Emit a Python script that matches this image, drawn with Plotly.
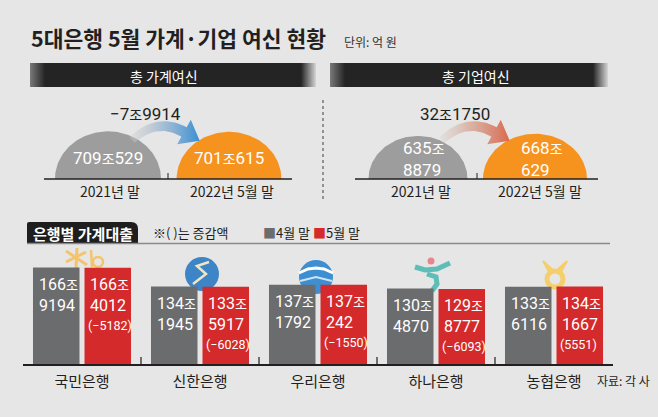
import numpy as np
import plotly.graph_objects as go

W, H = 658, 417

# ---------------- data ----------------
banks = ["국민은행", "신한은행", "우리은행", "하나은행", "농협은행"]
apr_jo = [166, 134, 137, 130, 133]
apr_eok = [9194, 1945, 1792, 4870, 6116]
may_jo = [166, 133, 137, 129, 134]
may_eok = [4012, 5917, 242, 8777, 1667]

periods = ["2021년 말", "2022년 5월 말"]
household_jo = [709, 701]
household_eok = [529, 615]
corporate_jo = [635, 668]
corporate_eok = [8879, 629]

# ---------------- styles ----------------
BG = "#e6e6e6"
GRAY_BAR = "#6b6c6e"
RED_BAR = "#d42a2b"
ORANGE = "#f6931e"
GRAY_CIRC = "#9d9d9d"
DARK = "#231f20"
KR = "Noto Sans CJK KR"
NUM = "Liberation Sans Narrow, Roboto, Noto Sans CJK KR, sans-serif"


def to_eok(jo, eok):
    return jo * 10000 + eok


def fmt_change(d, with_jo=True):
    s = "−" if d < 0 else ""
    a = abs(d)
    if with_jo and a >= 10000:
        return f"{s}{a // 10000}조{a % 10000}"
    return f"{s}{a}"


apr_val = [to_eok(j, e) / 10000 for j, e in zip(apr_jo, apr_eok)]
may_val = [to_eok(j, e) / 10000 for j, e in zip(may_jo, may_eok)]
bank_change = [to_eok(mj, me) - to_eok(aj, ae)
               for mj, me, aj, ae in zip(may_jo, may_eok, apr_jo, apr_eok)]

fig = go.Figure()

# ---------------- bar chart ----------------
fig.add_trace(go.Bar(x=banks, y=apr_val, name="4월 말", marker_color=GRAY_BAR,
                     marker_line_width=0, xaxis="x", yaxis="y", hoverinfo="skip"))
fig.add_trace(go.Bar(x=banks, y=may_val, name="5월 말", marker_color=RED_BAR,
                     marker_line_width=0, xaxis="x", yaxis="y", hoverinfo="skip"))

ann = []
shapes = []


def P(x, y):
    return x / W, 1 - y / H


def px_ann(x, y, text, size=14, color=DARK, family=KR, xanchor="center",
           yanchor="middle", weight=None, align="center"):
    f = dict(size=size, color=color, family=family)
    if weight:
        f["weight"] = weight
    ann.append(dict(x=x, y=y, xref="x3", yref="y3", text=text, showarrow=False,
                    xanchor=xanchor, yanchor=yanchor, font=f, align=align))


def small(s, sz=13):
    return f"<span style='font-size:{sz}px'>{s}</span>"


def bar_line(bank, val, text, xshift, yshift, size=16):
    ann.append(dict(x=bank, y=val, xref="x", yref="y", xanchor="left", yanchor="middle",
                    xshift=xshift, yshift=yshift, showarrow=False, align="left", text=text,
                    font=dict(size=size, color="white", family=NUM)))


for i, b in enumerate(banks):
    bar_line(b, apr_val[i], f"{apr_jo[i]}{small('조')}", -45, -17)
    bar_line(b, apr_val[i], f"{apr_eok[i]}", -45, -38)
    bar_line(b, may_val[i], f"{may_jo[i]}{small('조')}", 6, -17)
    bar_line(b, may_val[i], f"{may_eok[i]}", 6, -38)
    bar_line(b, may_val[i], f"({fmt_change(bank_change[i], False)})", 4, -58, size=12.5)
    if i > 0:
        shapes.append(dict(type="line", xref="x", yref="y3", x0=i - 0.5, x1=i - 0.5,
                           y0=357, y1=364, line=dict(color=DARK, width=1.2)))


# ---------------- top semicircles ----------------
def semicircle(cx, base, r, ry_ratio, color):
    t = np.linspace(0, np.pi, 80)
    xs = cx + r * np.cos(t)
    ys = base - ry_ratio * r * np.sin(t)
    fig.add_trace(go.Scatter(x=xs, y=ys, fill="toself", fillcolor=color, mode="lines",
                             line=dict(width=0, color=color), xaxis="x3", yaxis="y3",
                             hoverinfo="skip", showlegend=False))


BASE = 179
hh_val = [to_eok(j, e) for j, e in zip(household_jo, household_eok)]
cp_val = [to_eok(j, e) for j, e in zip(corporate_jo, corporate_eok)]
k_left = 53 / 709.0
k_right = 52 / 668.0
left_cx = [108, 229]
right_cx = [418, 535]
cols = [GRAY_CIRC, ORANGE]
for i in range(2):
    semicircle(left_cx[i], BASE, k_left * hh_val[i] / 10000, 0.9, cols[i])
    semicircle(right_cx[i], BASE, k_right * cp_val[i] / 10000, 0.87, cols[i])


# arrows
def arrow(p0, p1, p2, half=5.5, head=14, tip=18, c0="rgba(205,205,205,0.3)",
          cm="rgba(180,190,200,0.8)", c1="#3b8fd0"):
    p0, p1, p2 = map(np.array, (p0, p1, p2))
    t = np.linspace(0, 1, 40)[:, None]
    pts = (1 - t) ** 2 * p0 + 2 * (1 - t) * t * p1 + t ** 2 * p2
    der = 2 * (1 - t) * (p1 - p0) + 2 * t * (p2 - p1)
    der = der / np.linalg.norm(der, axis=1, keepdims=True)
    nrm = np.stack([-der[:, 1], der[:, 0]], axis=1)
    w = (0.7 + 0.3 * t) * half
    upper = pts - w * nrm
    lower = pts + w * nrm
    d_end, n_end = der[-1], nrm[-1]
    head_pts = np.array([p2 - head * n_end, p2 + tip * d_end, p2 + head * n_end])
    poly = np.vstack([upper, head_pts, lower[::-1], upper[:1]])
    fig.add_trace(go.Scatter(x=poly[:, 0], y=poly[:, 1], fill="toself", mode="lines",
                             line=dict(width=0), fillgradient=dict(type="horizontal",
                             colorscale=[[0, c0], [0.4, cm], [1, c1]]),
                             xaxis="x3", yaxis="y3", hoverinfo="skip", showlegend=False))


arrow((132, 140), (157, 117), (184, 132), c1="#3a8fd2", cm="rgba(170,190,210,0.85)")
arrow((442, 140), (467, 117), (494, 132), c0="rgba(215,205,200,0.3)",
      cm="rgba(215,175,160,0.85)", c1="#d9694f")


# header bars
def header(x0, x1, y0, y1):
    xs = [x0, x1, x1, x0, x0]
    ys = [y0, y0, y1, y1, y0]
    fr = 15 / (x1 - x0)
    fig.add_trace(go.Scatter(x=xs, y=ys, fill="toself", mode="lines", line=dict(width=0),
                             fillgradient=dict(type="horizontal", colorscale=[
                                 [0, "#7a7a7a"], [fr, "#242424"], [1 - fr, "#242424"], [1, "#d6d6d6"]]),
                             xaxis="x3", yaxis="y3", hoverinfo="skip", showlegend=False))


header(30, 316, 63, 87)
header(330, 608, 63, 87)

# ---------------- texts ----------------
px_ann(29, 37, "5대은행 5월 가계·기업 여신 현황", size=21.5, xanchor="left", weight=700)
px_ann(342, 41, "단위: 억 원", size=12, xanchor="left", color="#333")
px_ann(164, 76, "총 가계여신", size=14, color="white")
px_ann(476, 76, "총 기업여신", size=14, color="white")

px_ann(145, 114, fmt_change(hh_val[1] - hh_val[0]).replace("조", small("조", 14)), size=17, family=NUM)
px_ann(455, 114, fmt_change(cp_val[1] - cp_val[0]).replace("조", small("조", 14)), size=17, family=NUM)

px_ann(108, 158, f"{household_jo[0]}{small('조', 14)}{household_eok[0]}", size=17, color="white", family=NUM)
px_ann(229, 158, f"{household_jo[1]}{small('조', 14)}{household_eok[1]}", size=17, color="white", family=NUM)
px_ann(401, 148, f"{corporate_jo[0]}{small('조', 14)}", size=17, color="white", family=NUM, xanchor="left")
px_ann(401, 170, f"{corporate_eok[0]}", size=17, color="white", family=NUM, xanchor="left")
px_ann(519, 148, f"{corporate_jo[1]}{small('조', 14)}", size=17, color="white", family=NUM, xanchor="left")
px_ann(519, 170, f"{corporate_eok[1]}", size=17, color="white", family=NUM, xanchor="left")

for cx, lab in zip([110, 232], periods):
    px_ann(cx, 191, lab, size=14)
for cx, lab in zip([421, 540], periods):
    px_ann(cx, 191, lab, size=14)

px_ann(83, 233, "은행별 가계대출", size=15, color="white", weight=700)
px_ann(151, 232, "※( )는 증감액", size=13, xanchor="left")
px_ann(261, 232, f"<span style='color:{GRAY_BAR}'>■</span>4월 말 "
                 f"<span style='color:{RED_BAR}'>■</span>5월 말", size=13, xanchor="left")
px_ann(595, 380, "자료: 각 사", size=12, xanchor="left")

# ---------------- decorative shapes ----------------
L = dict(color=DARK, width=1.5)
shapes += [
    dict(type="line", xref="x3", yref="y3", x0=44, x1=292, y0=BASE, y1=BASE, line=L),
    dict(type="line", xref="x3", yref="y3", x0=168, x1=168, y0=173, y1=BASE, line=dict(color=DARK, width=1)),
    dict(type="line", xref="x3", yref="y3", x0=355, x1=598, y0=BASE, y1=BASE, line=L),
    dict(type="line", xref="x3", yref="y3", x0=477, x1=477, y0=173, y1=BASE, line=dict(color=DARK, width=1)),
    dict(type="line", xref="x3", yref="y3", x0=323, x1=323, y0=100, y1=200,
         line=dict(color="#777", width=1.5, dash="dot")),
    dict(type="path", xref="x3", yref="y3",
         path="M27,243 L27,224 Q27,222 29,222 L131,222 Q138,222 138,229 L138,243 Z",
         fillcolor="#1e1e1e", line=dict(width=0)),
    dict(type="line", xref="x3", yref="y3", x0=27, x1=610, y0=243.5, y1=243.5,
         line=dict(color="#8a8a8a", width=1.5)),
]


def ppath(points, close=False):
    s = ""
    for i, (x, y) in enumerate(points):
        px, py = P(x, y)
        s += ("M" if i == 0 else "L") + f"{px:.5f},{py:.5f} "
    return s + ("Z" if close else "")


def pcircle(cx, cy, r, fill, line=None, lw=0):
    x0, y0 = P(cx - r, cy + r)
    x1, y1 = P(cx + r, cy - r)
    shapes.append(dict(type="circle", xref="paper", yref="paper", x0=x0, x1=x1, y0=y0, y1=y1,
                       fillcolor=fill, line=dict(color=line or fill, width=lw), layer="below"))


def pline(points, color, width, close=False, fill=None):
    d = dict(type="path", xref="paper", yref="paper", layer="below",
             path=ppath(points, close), line=dict(color=color, width=width))
    if fill:
        d["fillcolor"] = fill
    shapes.append(d)


# KB star + b
KBC = "#f3c46e"
pline([(66, 251), (87, 265)], KBC, 3)
pline([(66, 262), (86, 252)], KBC, 3)
pline([(77, 248), (76, 268)], KBC, 3)
pline([(91, 250), (92, 267)], KBC, 2.5)
pcircle(98, 262, 5, "rgba(0,0,0,0)", KBC, 2.5)
# Shinhan
pcircle(202, 274, 17, "#3d85c6")
pline([(209, 262), (197, 266), (206, 274), (193, 284)], "#efe6c4", 2.5)
# Woori
pcircle(316, 277, 17, "#3e8fd1")
pline([(299, 273), (308, 269), (316, 268), (324, 269), (333, 273)], "white", 3)
pline([(300, 281), (316, 277), (332, 281)], "#cfe3f3", 2)
# Hana
HC = "#5dbdb7"
pline([(415, 267), (425, 270), (437, 269), (450, 263)], HC, 5)
pline([(427, 274), (436, 277), (437, 284), (432, 291)], HC, 5)
pcircle(431, 261, 3.5, "#e8868e")
# NH
NHC = "#f5cf6b"
pcircle(555, 279, 8, "rgba(0,0,0,0)", NHC, 5)
pline([(543, 261), (555, 272), (549, 272)], NHC, 2, True, NHC)
pline([(567, 261), (555, 272), (561, 272)], NHC, 2, True, NHC)

# ---------------- layout ----------------
fig.update_layout(
    width=W, height=H, margin=dict(l=0, r=0, t=0, b=0),
    paper_bgcolor=BG, plot_bgcolor="rgba(0,0,0,0)",
    showlegend=False, barmode="group", bargap=0.127, bargroupgap=0.097,
    xaxis=dict(domain=[23 / W, 613 / W], showline=True, linecolor=DARK, linewidth=1.5,
               ticks="", showgrid=False, zeroline=False, fixedrange=True,
               tickfont=dict(family=KR, size=15, color=DARK), ticklabelstandoff=3),
    yaxis=dict(domain=[1 - 364 / H, 1 - 260 / H], range=[0, 180], visible=False,
               showgrid=False, zeroline=False, fixedrange=True),
    xaxis3=dict(domain=[0, 1], range=[0, W], visible=False, fixedrange=True, anchor="y3"),
    yaxis3=dict(domain=[0, 1], range=[H, 0], visible=False, fixedrange=True, anchor="x3"),
    annotations=ann, shapes=shapes,
)

fig.write_html("out.html")
